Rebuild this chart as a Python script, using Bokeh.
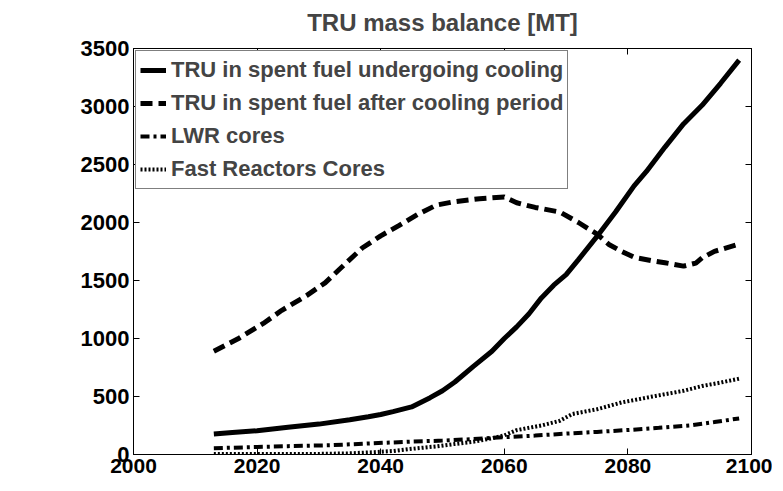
from bokeh.plotting import figure
from bokeh.models import LinearAxis, FixedTicker, Range1d, Legend, LegendItem, CustomLabelingPolicy
from bokeh.embed import file_html
from bokeh.resources import INLINE

# --- data ---
yr_cooling = [2013, 2016, 2020, 2025, 2030, 2035, 2038, 2040, 2042, 2045, 2048, 2050, 2052, 2055,
              2058, 2060, 2062, 2064, 2066, 2068, 2070, 2072, 2075, 2078, 2081, 2083, 2086, 2089,
              2092, 2095, 2098]
tru_cooling = [177, 190, 205, 234, 262, 300, 326, 345, 370, 410, 490, 550, 625, 760,
               890, 1000, 1100, 1214, 1350, 1460, 1550, 1680, 1880, 2090, 2316, 2440, 2650, 2850,
               3010, 3200, 3400]

yr_after = [2013, 2017, 2021, 2024, 2028, 2031, 2034, 2037, 2040, 2043, 2046, 2049, 2052, 2056,
            2060, 2062, 2065, 2069, 2072, 2075, 2077, 2079, 2081, 2084, 2086, 2089, 2091, 2092,
            2094, 2098]
tru_after = [890, 1000, 1130, 1243, 1370, 1480, 1630, 1780, 1885, 1975, 2070, 2150, 2180, 2205,
             2220, 2170, 2130, 2090, 2000, 1900, 1808, 1750, 1700, 1670, 1653, 1624, 1650, 1695,
             1751, 1814]

yr_lwr = [2013, 2020, 2025, 2032, 2038, 2045, 2050, 2055, 2060, 2065, 2069, 2075, 2080, 2085,
          2090, 2094, 2098]
lwr_cores = [54, 65, 72, 80, 95, 111, 120, 133, 149, 163, 177, 195, 211, 230, 250, 280, 311]

yr_fast = [2013, 2020, 2030, 2035, 2039, 2042, 2045, 2049, 2052, 2055, 2058, 2060, 2062, 2066,
           2069, 2071, 2075, 2079, 2084, 2089, 2092, 2095, 2098]
fast_cores = [5, 5, 5, 10, 20, 30, 49, 70, 91, 110, 140, 165, 210, 250,
              291, 349, 390, 449, 500, 549, 590, 620, 654]

x_ticks = [2000, 2020, 2040, 2060, 2080, 2100]
y_ticks = [0, 500, 1000, 1500, 2000, 2500, 3000, 3500]

labels = ["TRU in spent fuel undergoing cooling",
          "TRU in spent fuel after cooling period",
          "LWR cores",
          "Fast Reactors Cores"]
title_text = "TRU mass balance [MT]"

FONT = "Liberation Sans"

p = figure(frame_width=618, frame_height=406, output_backend="svg", toolbar_location=None,
           x_range=Range1d(2000, 2100), y_range=Range1d(0, 3500),
           min_border_left=133, min_border_top=48, min_border_right=12, min_border_bottom=0,
           title=title_text)
p.background_fill_color = "white"
p.border_fill_color = "white"
p.outline_line_color = "black"
p.outline_line_width = 1
p.grid.visible = False

p.title.align = "center"
p.title.text_font = FONT
p.title.text_font_size = "24px"
p.title.text_font_style = "bold"
p.title.standoff = 10

for ax in (p.xaxis[0], p.yaxis[0]):
    ax.major_label_text_font = FONT
    ax.major_label_text_font_size = "22px"
    ax.major_label_text_font_style = "bold"
    ax.major_label_text_color = "black"
    ax.axis_line_color = "black"
    ax.major_tick_in = 6
    ax.major_tick_out = 0
    ax.minor_tick_line_color = None
p.xaxis[0].major_label_text_font_size = "21px"
p.xaxis[0].major_label_standoff = 4
p.yaxis[0].major_label_standoff = 4
p.xaxis[0].ticker = FixedTicker(ticks=x_ticks)
p.yaxis[0].ticker = FixedTicker(ticks=y_ticks)

hide_code = """
const out = indices.clone();
for (const i of [...indices]) { if (out.unset) { out.unset(i) } else { out.set(i, false) } }
return out;
"""
top = LinearAxis(ticker=FixedTicker(ticks=x_ticks), major_label_text_font_size="8px",
                 major_label_policy=CustomLabelingPolicy(code=hide_code),
                 major_tick_in=6, major_tick_out=0, minor_tick_line_color=None,
                 major_label_standoff=0)
right = LinearAxis(ticker=FixedTicker(ticks=y_ticks), major_label_text_font_size="8px",
                   major_label_policy=CustomLabelingPolicy(code=hide_code),
                   major_tick_in=6, major_tick_out=0, minor_tick_line_color=None,
                   major_label_standoff=0)
p.add_layout(top, "above")
p.add_layout(right, "right")

r1 = p.line(yr_cooling, tru_cooling, line_color="black", line_width=5)
r2 = p.line(yr_after, tru_after, line_color="black", line_width=5, line_dash="12 6")
r3 = p.line(yr_lwr, lwr_cores, line_color="black", line_width=4, line_dash="9 4 3 4")
r4 = p.line(yr_fast, fast_cores, line_color="black", line_width=4, line_dash="2 2")

legend = Legend(items=[LegendItem(label=labels[0], renderers=[r1]),
                       LegendItem(label=labels[1], renderers=[r2]),
                       LegendItem(label=labels[2], renderers=[r3]),
                       LegendItem(label=labels[3], renderers=[r4])],
                location="top_left")
legend.margin = 2
legend.padding = 4
legend.spacing = 3
legend.glyph_width = 26
legend.glyph_height = 30
legend.label_height = 30
legend.label_standoff = 5
legend.label_text_font = FONT
legend.label_text_font_size = "22px"
legend.label_text_font_style = "bold"
legend.border_line_color = "black"
legend.border_line_width = 1
legend.background_fill_color = "white"
legend.background_fill_alpha = 1.0
p.add_layout(legend, "center")

open("out.html", "w").write(file_html(p, INLINE))
